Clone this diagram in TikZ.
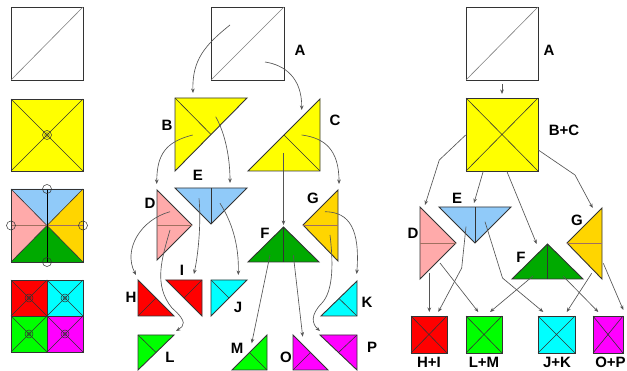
\documentclass[tikz,border=0pt]{standalone}
\usepackage{fontspec}
\setmainfont{Liberation Sans}
\usetikzlibrary{arrows.meta}
\definecolor{sqyellow}{HTML}{FFFF00}
\definecolor{skyblue}{HTML}{90CAF9}
\definecolor{rosepink}{HTML}{FFAAAA}
\definecolor{goldtri}{HTML}{FFD500}
\definecolor{leafgreen}{HTML}{00AA00}
\definecolor{brightred}{HTML}{FF0000}
\definecolor{brightcyan}{HTML}{00FFFF}
\definecolor{limegreen}{HTML}{00FF00}
\definecolor{brightmag}{HTML}{FF00FF}
\definecolor{edgegray}{HTML}{333333}
\definecolor{wiregray}{HTML}{555555}
\definecolor{seamtan}{HTML}{A07060}
\begin{document}
\begin{tikzpicture}[x=1pt,y=-1pt,
  piece/.style={draw=edgegray,line width=0.9pt,line join=miter},
  crease/.style={draw=edgegray,line width=0.6pt},
  link/.style={draw=wiregray,line width=0.65pt,-{Stealth[length=4.5pt,width=3.6pt]}},
  lab/.style={font=\bfseries\fontsize{15}{15}\selectfont,inner sep=0pt},
  pin/.style={draw=edgegray,line width=0.5pt}]
\clip (0,0) rectangle (627,371);
\fill[white] (0,0) rectangle (627,371);

% ---------- left column: the folding steps ----------
\draw[piece,fill=white] (11,7) rectangle (83,80);
\draw[crease,draw=gray] (11,80) -- (83,7);

\draw[piece,fill=sqyellow] (11,99) rectangle (83,171);
\draw[crease] (11,99) -- (83,171) (11,171) -- (83,99);
\draw[pin] (47,135) circle[radius=4.5pt] (47,135) circle[radius=2.2pt];

\coordinate (q) at (47,225.5);
\fill[skyblue] (11,189) -- (83,189) -- (q) -- cycle;
\fill[rosepink] (11,189) -- (11,262) -- (q) -- cycle;
\fill[goldtri] (83,189) -- (83,262) -- (q) -- cycle;
\fill[leafgreen] (11,262) -- (83,262) -- (q) -- cycle;
\draw[crease] (11,189) -- (83,262) (11,262) -- (83,189);
\draw[crease,draw=seamtan] (11,225.5) -- (83,225.5);
\draw[crease,draw=black] (47,189) -- (47,262);
\draw[piece] (11,189) rectangle (83,262);
\foreach \p in {(47,189),(47,262),(11,225.5),(83,225.5)}
  \draw[pin] \p circle[radius=4.5pt];

\fill[brightred] (11,280) rectangle (47,316);
\fill[brightcyan] (47,280) rectangle (83,316);
\fill[limegreen] (11,316) rectangle (47,352);
\fill[brightmag] (47,316) rectangle (83,352);
\foreach \x/\y in {11/280,47/280,11/316,47/316}{
  \draw[crease] (\x,\y) -- ++(36,36) (\x,\y+36) -- ++(36,-36);
  \draw[pin] (\x+18,\y+18) circle[radius=4pt] (\x+18,\y+18) circle[radius=2pt];
}
\draw[piece] (11,280) rectangle (83,352) (47,280) -- (47,352) (11,316) -- (83,316);

% ---------- middle: the pieces cut apart ----------
\draw[piece,fill=white] (211,7) rectangle (284,80);
\draw[crease,draw=gray] (211,80) -- (284,7);
\node[lab] (mA) at (300,50) {A};

\draw[piece,fill=sqyellow] (175,98) -- (247,98) -- (175,171) -- cycle;
\draw[crease] (175,98) -- (211,134.5);
\node[lab] (mB) at (167,125) {B};

\draw[piece,fill=sqyellow] (320,99) -- (320,171) -- (248,171) -- cycle;
\draw[crease] (320,171) -- (284,135);
\node[lab] (mC) at (335,120) {C};

\draw[piece,fill=rosepink] (157,190) -- (157,260) -- (192,225) -- cycle;
\draw[crease,draw=seamtan] (157,225) -- (192,225);
\node[lab] (mD) at (150,203) {D};

\draw[piece,fill=skyblue] (175,188) -- (247,188) -- (211,224) -- cycle;
\draw[crease] (211,188) -- (211,224);
\node[lab] (mE) at (198,175) {E};

\draw[piece,fill=leafgreen] (283.5,227) -- (248,262) -- (319,262) -- cycle;
\draw[crease] (283.5,227) -- (283.5,262);
\node[lab] (mF) at (265,233) {F};

\draw[piece,fill=goldtri] (338,190) -- (338,261) -- (303,225) -- cycle;
\draw[crease,draw=seamtan] (303,225) -- (338,225);
\node[lab] (mG) at (313,198) {G};

\draw[piece,fill=brightred] (138,280) -- (138,316) -- (174,316) -- cycle;
\draw[crease] (138,316) -- (156,298);
\node[lab] (mH) at (131,297) {H};

\draw[piece,fill=brightred] (166,280) -- (202,280) -- (202,316) -- cycle;
\draw[crease] (202,280) -- (184,298);
\node[lab] (mI) at (182,270) {I};

\draw[piece,fill=brightcyan] (211,280) -- (247,280) -- (211,316) -- cycle;
\draw[crease] (211,280) -- (229,298);
\node[lab] (mJ) at (238,307) {J};

\draw[piece,fill=brightcyan] (357,281) -- (357,316) -- (321,316) -- cycle;
\draw[crease] (357,316) -- (339,298.5);
\node[lab] (mK) at (367,302) {K};

\draw[piece,fill=limegreen] (138,335) -- (174,335) -- (138,370) -- cycle;
\draw[crease] (138,335) -- (156,352.5);
\node[lab] (mL) at (170,357) {L};

\draw[piece,fill=limegreen] (267,335) -- (267,370) -- (232,370) -- cycle;
\draw[crease] (267,370) -- (249.5,352.5);
\node[lab] (mM) at (237,348) {M};

\draw[piece,fill=brightmag] (293,335) -- (293,370) -- (328,370) -- cycle;
\draw[crease] (293,370) -- (310.5,352.5);
\node[lab] (mO) at (286,357) {O};

\draw[piece,fill=brightmag] (320,335) -- (357,335) -- (357,370) -- cycle;
\draw[crease] (357,335) -- (338.5,352.5);
\node[lab] (mP) at (372,347) {P};

% connector ends inside the pieces
\coordinate (sAB) at (230,25);    \coordinate (tB) at (193,93);
\coordinate (sAC) at (265,62);    \coordinate (tC) at (301.7,110);
\coordinate (sBD) at (192.7,135); \coordinate (tD) at (156.7,184);
\coordinate (sBE) at (215.7,116.7); \coordinate (tE) at (230,183);
\coordinate (sCF) at (283.5,153); \coordinate (tF) at (283.5,225);
\coordinate (sCG) at (301.7,135); \coordinate (tG) at (339,184);
\coordinate (sDH) at (170,211.7); \coordinate (tH) at (136,275);
\coordinate (sDL) at (170,230);   \coordinate (tL) at (176,331);
\coordinate (sEI) at (199,198.3); \coordinate (tI) at (194,274);
\coordinate (sEJ) at (220,203.3); \coordinate (tJ) at (238.3,275);
\coordinate (sFM) at (270,255);   \coordinate (tM) at (251.7,343.3);
\coordinate (sFO) at (293.3,255); \coordinate (tO) at (302.7,336.7);
\coordinate (sGK) at (325,211.7); \coordinate (tK) at (356.7,274);
\coordinate (sGP) at (330,235);   \coordinate (tP) at (320,331);

\draw[link] (sAB) .. controls (205,45) and (192,60) .. (tB);
\draw[link] (sAC) .. controls (285,65) and (302,78) .. (tC);
\draw[link] (sBD) .. controls (165,142) and (157,155) .. (tD);
\draw[link] (sBE) .. controls (226,135) and (230,160) .. (tE);
\draw[link] (sCF) -- (tF);
\draw[link] (sCG) .. controls (325,138) and (339,150) .. (tG);
\draw[link] (sDH) .. controls (140,220) and (123,250) .. (tH);
\draw[link] (sDL) .. controls (162,258) and (153,285) .. (172,308)
                  .. controls (188,322) and (184,326) .. (tL);
\draw[link] (sEI) .. controls (201,220) and (199,250) .. (tI);
\draw[link] (sEJ) .. controls (232,222) and (239,245) .. (tJ);
\draw[link] (sFM) -- (tM);
\draw[link] (sFO) -- (tO);
\draw[link] (sGK) .. controls (350,212) and (360,230) .. (tK);
\draw[link] (sGP) .. controls (333,260) and (334,290) .. (322,303)
                  .. controls (310,315) and (312,324) .. (tP);

% ---------- right: pieces joined into the four squares ----------
\draw[piece,fill=white] (466,7) rectangle (538,80);
\draw[crease,draw=gray] (466,80) -- (538,7);
\node[lab] (rA) at (549,50) {A};

\draw[piece,fill=sqyellow] (466,98) rectangle (538,171);
\draw[crease] (466,98) -- (538,171) (466,171) -- (538,98);
\node[lab] (rBC) at (564,130) {B+C};

\draw[piece,fill=rosepink] (420,207) -- (420,279) -- (456,243) -- cycle;
\draw[crease,draw=seamtan] (420,243) -- (456,243);
\node[lab] (rD) at (413,233) {D};

\draw[piece,fill=skyblue] (439,207) -- (511,207) -- (475,243) -- cycle;
\draw[crease] (475,207) -- (475,243);
\node[lab] (rE) at (457,198) {E};

\draw[piece,fill=leafgreen] (547.5,244) -- (512,279) -- (583,279) -- cycle;
\draw[crease] (547.5,244) -- (547.5,279);
\node[lab] (rF) at (521,257) {F};

\draw[piece,fill=goldtri] (602,208) -- (602,279) -- (567,243) -- cycle;
\draw[crease,draw=seamtan] (567,243) -- (602,243);
\node[lab] (rG) at (577,220) {G};

\foreach \xa/\xb/\c in {411/447/brightred,466/502/limegreen,538/575/brightcyan,593/623/brightmag}{
  \draw[piece,fill=\c] (\xa,316) rectangle (\xb,353);
  \draw[crease] (\xa,316) -- (\xb,353) (\xa,353) -- (\xb,316);
}
\node[lab] (rHI) at (429,362.5) {H+I};
\node[lab] (rLM) at (484,362.5) {L+M};
\node[lab] (rJK) at (557,362.5) {J+K};
\node[lab] (rOP) at (610.5,362.5) {O+P};

\coordinate (uA) at (502,84);   \coordinate (vBC) at (502,94);
\coordinate (uBD) at (465.7,135); \coordinate (vD) at (425,205);
\coordinate (uBE) at (483.3,171); \coordinate (vE) at (474,203);
\coordinate (uBF) at (506.7,171); \coordinate (vF) at (536.7,244);
\coordinate (uBG) at (538.3,150); \coordinate (vG) at (592.7,208);
\coordinate (uDH) at (429.3,273); \coordinate (vHI1) at (429.3,312);
\coordinate (uDL) at (440,263);   \coordinate (vLM1) at (478.3,312);
\coordinate (uEH) at (466,226.7); \coordinate (vHI2) at (438.3,312);
\coordinate (uEJ) at (485,221.7); \coordinate (vJK1) at (543.3,312);
\coordinate (uFL) at (533,276);   \coordinate (vLM2) at (490,312);
\coordinate (uFO) at (563,276);   \coordinate (vOP1) at (598.3,312);
\coordinate (uGJ) at (591.7,273.3); \coordinate (vJK2) at (566.7,312);
\coordinate (uGO) at (603.3,263.3); \coordinate (vOP2) at (623.3,310);

\draw[link] (uA) -- (vBC);
\draw[link] (uBD) -- (439.3,160) -- (vD);
\draw[link] (uBE) -- (vE);
\draw[link] (uBF) -- (vF);
\draw[link] (uBG) -- (575,175) -- (vG);
\draw[link] (uDH) -- (vHI1);
\draw[link] (uDL) -- (vLM1);
\draw[link] (uEH) -- (461.7,268) -- (vHI2);
\draw[link] (uEJ) -- (502.5,278) -- (vJK1);
\draw[link] (uFL) -- (vLM2);
\draw[link] (uFO) -- (vOP1);
\draw[link] (uGJ) -- (vJK2);
\draw[link] (uGO) -- (vOP2);
\end{tikzpicture}
\end{document}
